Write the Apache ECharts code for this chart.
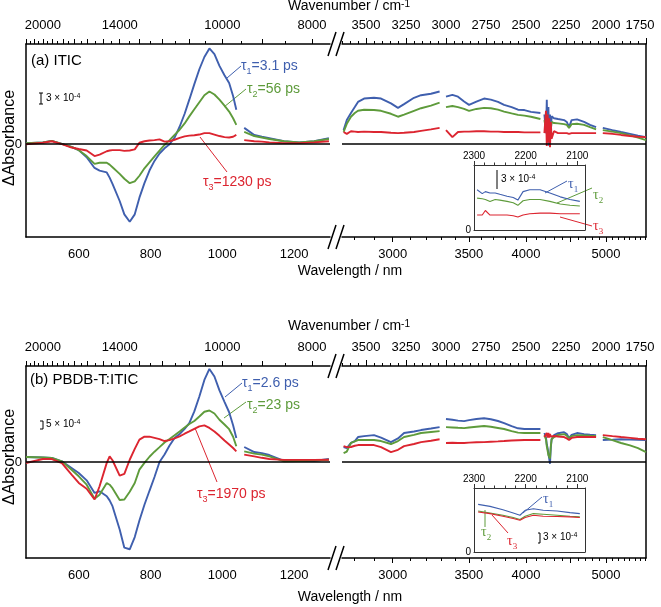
<!DOCTYPE html>
<html>
<head>
<meta charset="utf-8">
<script src="https://cdn.jsdelivr.net/npm/echarts@6/dist/echarts.min.js"></script>
<style>
  html, body { margin: 0; padding: 0; background: #fff; }
  #main { width: 661px; height: 607px; }
</style>
</head>
<body>
<div id="main"></div>
<script>
// ΔA values are in units of 1e-4
// visible / NIR part, wavelength in nm (null = gap in the data)
var visWl = [453, 500, 525, 553, 580, 600, 622, 644, 658, 678, 686, 694, 714, 727, 742, 756, 769, 783, 797, 811,
  825, 839, 853, 867, 881, 895, 908, 922, 936, 950, 964, 978, 992, 1006, 1019, 1030, 1039, 1050, 1061, 1089,
  1110, 1131, 1172, 1214, 1256, 1297];
var visBlueA = [0.3, 0.5, 0.9, 0.1, -0.7, -1.6, -3.5, -6.4, -7.1, -7.6, -9.0, -10.7, -15.3, -18.9, -20.9, -18.9, -14.4, -10.5, -7.1, -4.5,
  -2.5, -1.1, 0, 1.8, 4.7, 8.2, 12, 16.2, 20.2, 23.5, 25.8, 24.3, 21.1, 18.6, 16.5, 13, 9.3, null, 4.4, 2.5,
  2.0, 1.6, 0.8, 0.5, 0.8, 1.6];
var visGreenA = [0.3, 0.5, 0.9, 0.1, -0.7, -1.6, -3.2, -5.3, -5.0, -5.0, -5.5, -6.2, -8.0, -9.3, -10.5, -10.0, -8.5, -6.5, -4.9, -3.3,
  -1.7, -0.2, 1.1, 2.5, 3.9, 5.6, 7.5, 9.4, 11.3, 13.2, 14.2, 13.4, 12.0, 10.4, 8.8, 7.0, 5.2, null, 3.3, 2.2,
  1.8, 1.4, 0.8, 0.5, 0.8, 1.4];
var visRedA = [0, 0.4, 0.8, 0, -0.9, -1.3, -1.7, -3.2, -2.8, -1.9, -1.7, -1.6, -1.6, -1.8, -1.7, -1.4, 0.4, 0.8, 1.0, 1.1,
  1.3, 0.7, 0.8, 1.2, 1.7, 2.1, 2.3, 2.4, 2.6, 3.0, 3.0, 2.6, 2.2, 1.9, 1.8, 2.0, 2.5, null, 1.1, 0.8,
  0.7, 0.5, 0.3, 0.3, 0.5, 0.8];
var visBlueB = [2.9, 2.6, 2.3, 0.4, -3.4, -6.3, -10.5, -17.7, -16.8, -19.6, -22, -25.3, -38.7, -49.1, -50.0, -43, -33.5, -24.5, -16.5, -8.6,
  0, 4.3, 9.5, 13.8, 16, 19, 22.3, 29, 37.5, 47, 53.3, 49, 41, 34.5, 28.5, 21, 13.7, null, 8.6, 5.7,
  5.1, 4, 0.6, 0.6, 0.6, 1.7];
var visGreenB = [2.9, 2.6, 2.3, 0.4, -4.4, -8.2, -13, -21, -18.7, -12, -13, -15, -21.8, -21.5, -17, -12, -4.4, -0.5, 3, 5.9,
  8.5, 11.2, 13.2, 15.3, 17.5, 19.8, 21.8, 23.5, 26.1, 28.8, 29.5, 27.8, 24.2, 21.5, 18.8, 14.5, 9, null, 6.1, 4.8,
  4.2, 3.2, 0.4, 0.6, 0.8, 1.3];
var visRedB = [-0.6, 1.7, 1.7, -0.6, -7.2, -12, -15.3, -21.5, -13.9, -0.5, 3.2, 1.0, -7.8, -6.8, 1.3, 7.5, 12.8, 14.5, 14.5, 13.8,
  13.1, 12, 12.5, 13.5, 14.7, 16.2, 17.5, 19, 20.4, 21, 19.5, 17.5, 15, 12.3, 10, 8, 6.1, null, 4.2, 3.2,
  2.4, 1.7, 1.2, 1.2, 1.2, 1.3];

// mid-IR part, wavenumber in cm-1
var irNu = [3640, 3620, 3594, 3570, 3550, 3512, 3450, 3406, 3344, 3300, 3262, 3200, 3156, 3094, 3040, 3020, 3000, 2960, 2925, 2887,
  2856, 2810, 2762, 2720, 2675, 2637, 2590, 2550, 2510, 2469, 2410, 2397, 2385, 2375, 2370, 2365, 2360, 2355, 2350, 2345,
  2340, 2325, 2300, 2262, 2245, 2231, 2215, 2206, 2181, 2137, 2100, 2062, 2040, 2020, 1960, 1906, 1850, 1800, 1750];
var irBlueA = [3.8, 6.5, 8.4, 10, 11.4, 12.3, 12.5, 12.3, 11, 9.8, 10.8, 12.5, 13.2, 13.6, 14.2, null, 12.8, 13.3, 12.8, 11.5,
  10.6, 11.5, 12.3, 12, 11.4, 10.6, 10, 9.3, 9.2, 8.7, 8.4, null, 8, 3, 12, 1, 10, -0.5, 8, 3,
  7.5, 7, 6.8, 6.5, 6, 4.6, 6.5, 7, 6.7, 6, 5.2, 4.6, null, 4.4, 3.8, 3.3, 2.8, 2.3, 1.9];
var irGreenA = [3.3, 5.5, 7.4, 8.4, 9, 9.3, 9.2, 9, 8.2, 7.4, 8, 9, 9.7, 10.4, 11.2, null, 10, 10.3, 10, 9.5,
  9, 9.5, 9.8, 9.7, 9.3, 8.8, 8.3, 7.9, 7.7, 7.4, 6.8, null, 6.5, 4, 8, 2.5, 7, 1, 6, 4,
  6, 5.7, 5.6, 5.4, 5.2, 4.4, 5.4, 5.7, 5.5, 5.2, 4.6, 4, null, 3.8, 3.4, 3, 2.4, 1.8, 1.1];
var irRedA = [3.3, 2.8, 3.5, 3.4, 3.3, 3.4, 3.3, 3.3, 3.1, 3, 3.1, 3.3, 3.6, 4, 4.4, null, 3.8, 1.9, 3.3, 3.4,
  3.4, 3.5, 3.5, 3.4, 3.4, 3.3, 3.3, 3.3, 3.2, 3.2, 3.2, null, 3, 9, -0.5, 8, 0.5, 7, -0.8, 6,
  1.5, 3.5, 3, 3, 3, 2.8, 3, 3, 3, 3, 3, 3, null, 3, 2.8, 2.5, 2.2, 2, 1.9];
var irBlueB = [8.6, 8, 10.9, 12, 14.3, 14.8, 15.4, 14, 11.4, 13.5, 16.6, 17.5, 18.3, 19.2, 20, null, 24.6, 24.2, 23.7, 23.4,
  24, 24.6, 25.1, 24.5, 23.5, 22.3, 20.5, 19.3, 18.9, 18.9, 18.9, null, 16.6, 14, 10, 8, 5, 2, -1, 8,
  13, 15.4, 16.5, 17.1, 16, 13.7, 15.5, 16.6, 16.6, 16, 15.6, 15.4, null, 12.6, 12.8, 13, 12.8, 12.7, 12.6];
var irGreenB = [5.1, 6, 10.9, 11.8, 12.6, 12.6, 12.6, 12, 10.3, 12, 14.3, 15.5, 16.6, 17.2, 17.7, null, 20, 19.8, 19.6, 19.4,
  19.8, 20.2, 20.6, 20.2, 19.5, 18.9, 17.7, 16.8, 16.6, 16.6, 16.6, null, 15.4, 13, 9, 6.5, 4, 2.9, 2, 9,
  13, 14.3, 15.5, 16, 15, 13.7, 14.8, 15.4, 15.4, 15.2, 15, 14.9, null, 14.3, 12.5, 10.9, 9.5, 8, 5.7];
var irRedB = [9.1, 8.5, 8.6, 9.3, 9.7, 9.7, 9.7, 8.5, 5.7, 7, 9.1, 10.3, 11.4, 12.2, 13, null, 10.9, 11, 10.9, 10.9,
  11.1, 11.3, 11.4, 11.6, 11.8, 12, 12.3, 12.5, 12.6, 12.6, 12.6, null, 14.3, 13.5, 16.6, 14, 16.6, 14, 16, 14.5,
  15, 14.9, 14.6, 14.3, 13.5, 12.6, 13.8, 14.3, 14.3, 14.3, 14.3, 14.3, null, 15.4, 14.8, 14.3, 13.8, 13.3, 13];

// insets (2300-2090 cm-1)
var insNuA = [2294, 2284, 2278, 2269, 2259, 2250, 2236, 2224, 2215, 2205, 2192, 2172, 2153, 2133, 2114, 2095];
var insBlueA = [6.2, 5.6, 5.9, 5.7, 5.7, 5.5, 5.2, 5.0, 4.6, 5.9, 6.2, 6.2, 5.7, 5.1, 4.7, 4.4];
var insGreenA = [4.9, 4.8, 4.7, 4.4, 4.7, 4.6, 4.4, 4.2, 3.8, 4.5, 4.7, 4.7, 4.4, 4.0, 3.8, 3.7];
var insRedA = [2.3, 2.3, 3.0, 2.3, 2.3, 2.3, 2.3, 2.2, 2.0, 2.3, 2.5, 2.6, 2.6, 2.5, 2.5, 2.5];
var insNuB = [2292, 2269, 2244, 2224, 2211, 2201, 2185, 2166, 2139, 2114, 2095];
var insBlueB = [14.5, 13.9, 12.9, 11.9, 11.2, 12.7, 13.2, 12.7, 12.5, 12.0, 11.7];
var insGreenB = [12.5, 11.9, 11.2, 10.5, 9.9, 10.9, 11.7, 11.5, 11.2, 10.9, 10.7];
var insRedB = [12.2, 11.7, 10.9, 10.2, 9.7, 10.5, 11.2, 10.9, 10.8, 10.7, 10.5];

// tick labels
var visWlLabels = [600, 800, 1000, 1200];
var visNuLabels = [20000, 14000, 10000, 8000];
var irNuLabels = [3500, 3250, 3000, 2750, 2500, 2250, 2000, 1750];
var irWlLabels = [3000, 3500, 4000, 5000];
var irWlMajor = [3000, 3500, 4000, 4500, 5000];
var insNuLabels = [2300, 2200, 2100];

var SANS = '"Liberation Sans", Arial, Helvetica, sans-serif';
var SERIF = '"Liberation Serif", "Times New Roman", serif';
var BLUE = '#3f5fae', GREEN = '#5e9b3b', RED = '#dc2530';

var chart = echarts.init(document.getElementById('main'));

function steps(a, b, s) { var r = []; for (var v = a; s > 0 ? v <= b : v >= b; v += s) r.push(v); return r; }
function inv(arr) { return arr.map(function (v) { return 1e7 / v; }); }
function nmFmt(v) { return String(Math.round(1e7 / v)); }
function plainFmt(v) { return String(v); }

// 1-unit category scales, used only to place tick marks (nm for the visible part, cm-1 for the IR)
var visCats = steps(453, 1300, 1).map(String);
var irCats = steps(3650, 1750, -1).map(String);
var insCats = steps(2300, 2085, -1).map(String);

function baseX(gi, pos, min, max, inverse, color, w) {
  return {
    type: 'value', gridIndex: gi, position: pos, min: min, max: max, inverse: !!inverse,
    axisLine: { show: true, onZero: false, lineStyle: { color: color || '#000', width: w || 1.5 } },
    axisTick: { show: false }, axisLabel: { show: false }, splitLine: { show: false }
  };
}
function labels(ax, vals, fmt, size, margin, rich) {
  ax.axisLabel = { show: true, customValues: vals, formatter: fmt || plainFmt, fontSize: size, color: '#000',
    fontFamily: SANS, margin: margin };
  if (rich) ax.axisLabel.rich = rich;
  return ax;
}
function tickAxis(gi, pos, cats, marks, len, color) {
  var set = {};
  marks.forEach(function (m) { set[String(Math.round(m))] = true; });
  return {
    type: 'category', gridIndex: gi, position: pos, data: cats, boundaryGap: false,
    axisLine: { show: false, onZero: false }, axisLabel: { show: false }, splitLine: { show: false },
    axisTick: { show: true, length: len, lineStyle: { color: color || '#000', width: 1 },
      interval: function (i, v) { return set[v] === true; } }
  };
}

var grids = [], xAxes = [], yAxes = [], series = [], graphics = [];

// outward ticks above a frame line: a thin helper grid whose bottom edge sits len px above the
// frame, with downward bottom ticks of length len that end on the frame line
function topTicks(left, width, frameTop, cats, marks, len, color) {
  var g = grids.length;
  grids.push({ left: left, top: frameTop - len - 2, width: width, height: 2 });
  xAxes.push(tickAxis(g, 'bottom', cats, marks, len, color));
  yAxes.push({ type: 'value', gridIndex: g, min: 0, max: 1, show: false });
}

function zip(xs, ys) {
  return xs.map(function (x, i) { return [x, ys[i] === null ? '-' : ys[i]]; });
}
function line(xs, ys, color, xi, yi, w, zero) {
  var s = {
    type: 'line', xAxisIndex: xi, yAxisIndex: yi, data: zip(xs, ys), showSymbol: false,
    lineStyle: { color: color, width: w }, itemStyle: { color: color }, connectNulls: false, silent: true
  };
  if (zero) {
    s.markLine = { silent: true, symbol: ['none', 'none'], label: { show: false },
      lineStyle: { color: '#000', width: 1.5, type: 'solid' }, data: [{ yAxis: 0 }] };
  }
  series.push(s);
}

function panel(top, h, yMin, yMax, insTop, insH, insMax, vis, ir, ins, insNu) {
  var g = grids.length, xi = xAxes.length, yi = yAxes.length;
  grids.push({ left: 26, top: top, width: 304, height: h },
             { left: 342, top: top, width: 304, height: h },
             { left: 474, top: insTop, width: 111, height: insH });
  // value axes that carry the data and the labels
  xAxes.push(labels(baseX(g, 'bottom', 453, 1300), visWlLabels, null, 13, 11));               // xi
  xAxes.push(labels(baseX(g, 'top', 453, 1300), inv(visNuLabels), nmFmt, 13, 12));            // xi+1
  xAxes.push(labels(baseX(g + 1, 'bottom', 1750, 3650, true), inv(irWlLabels), nmFmt, 13, 11)); // xi+2
  xAxes.push(labels(baseX(g + 1, 'top', 1750, 3650, true), irNuLabels,                         // xi+3
    function (v) { return v === 1750 ? '{r|1750}' : String(v); }, 13, 12,
    { r: { fontSize: 13, fontFamily: SANS, color: '#000', padding: [0, 12, 0, 0] } }));
  xAxes.push(labels(baseX(g + 2, 'top', 2085, 2300, true, '#333', 1), insNuLabels, null, 10, 4)); // xi+4
  xAxes.push(baseX(g + 2, 'bottom', 2085, 2300, true, '#333', 1));                             // xi+5
  // bottom ticks of the IR segment (wavelength steps on the wavenumber scale)
  xAxes.push(tickAxis(g + 1, 'bottom', irCats, inv(steps(2800, 5700, 100)), 3));
  xAxes.push(tickAxis(g + 1, 'bottom', irCats, inv(irWlMajor), 5));

  yAxes.push({ type: 'value', gridIndex: g, position: 'left', min: yMin, max: yMax,
    axisLine: { show: true, onZero: false, lineStyle: { color: '#000', width: 1.5 } }, axisTick: { show: false },
    axisLabel: { customValues: [0], fontSize: 13, color: '#000', fontFamily: SANS, margin: 4 }, splitLine: { show: false } });
  yAxes.push({ type: 'value', gridIndex: g + 1, position: 'right', min: yMin, max: yMax,
    axisLine: { show: true, onZero: false, lineStyle: { color: '#000', width: 1.5 } }, axisTick: { show: false },
    axisLabel: { show: false }, splitLine: { show: false } });
  yAxes.push({ type: 'value', gridIndex: g + 2, position: 'left', min: 0, max: insMax,
    axisLine: { show: true, onZero: false, lineStyle: { color: '#333', width: 1 } }, axisTick: { show: false },
    axisLabel: { customValues: [0], fontSize: 10, color: '#000', fontFamily: SANS, margin: 3 }, splitLine: { show: false } });
  yAxes.push({ type: 'value', gridIndex: g + 2, position: 'right', min: 0, max: insMax,
    axisLine: { show: true, onZero: false, lineStyle: { color: '#333', width: 1 } }, axisTick: { show: false },
    axisLabel: { show: false }, splitLine: { show: false } });

  var cols = [BLUE, GREEN, RED];
  for (var k = 0; k < 3; k++) {
    line(visWl, vis[k], cols[k], xi, yi, 1.9, k === 0);
    line(irNu, ir[k], cols[k], xi + 2, yi + 1, 1.9, k === 0);
    line(insNu, ins[k], cols[k], xi + 4, yi + 2, 1.1, false);
  }

  // top ticks
  topTicks(26, 304, top, visCats, inv(steps(22000, 8000, -500)), 3);
  topTicks(26, 304, top, visCats, inv(steps(22000, 8000, -1000)), 5);
  topTicks(342, 304, top, irCats, steps(1750, 3650, 50), 3);
  topTicks(342, 304, top, irCats, steps(1750, 3500, 250), 6);
  topTicks(474, 111, insTop, insCats, steps(2100, 2300, 20), 2.5, '#333');
  topTicks(474, 111, insTop, insCats, insNuLabels, 4, '#333');

  // axis break marks
  [top, top + h].forEach(function (y) {
    [332, 340].forEach(function (cx) {
      graphics.push({ type: 'line', silent: true, shape: { x1: cx - 4, y1: y + 12, x2: cx + 4, y2: y - 12 },
        style: { stroke: '#000', lineWidth: 1.5 } });
    });
  });
}

function text(x, y, str, size, color, align, extra) {
  var st = { text: str, fill: color || '#000', fontSize: size, fontFamily: SANS, align: align || 'left', verticalAlign: 'middle' };
  var el = { type: 'text', x: x, y: y, silent: true, style: st };
  if (extra) for (var key in extra) el[key] = extra[key];
  graphics.push(el);
}
function seg(x1, y1, x2, y2, color, w) {
  graphics.push({ type: 'line', silent: true, shape: { x1: x1, y1: y1, x2: x2, y2: y2 },
    style: { stroke: color || '#000', lineWidth: w || 1 } });
}
function tau(x, y, n, rest, color, size, family) {
  var sub = Math.round(size * 0.65);
  graphics.push({ type: 'text', x: x, y: y, silent: true, style: {
    text: '{t|τ}{s|' + n + '}' + (rest ? '{t|' + rest + '}' : ''), align: 'left', verticalAlign: 'middle',
    rich: {
      t: { fontSize: size, fontFamily: family, fill: color, verticalAlign: 'top', lineHeight: size },
      s: { fontSize: sub, fontFamily: family, fill: color, verticalAlign: 'top', lineHeight: sub,
        padding: [Math.round(size * 0.55), 0, 0, 0] }
    } } });
}
function sup(x, y, base, p, size, align) {
  var ps = Math.round(size * 0.7);
  graphics.push({ type: 'text', x: x, y: y, silent: true, style: {
    text: '{b|' + base + '}{p|' + p + '}', align: align || 'left', verticalAlign: 'middle',
    rich: {
      b: { fontSize: size, fontFamily: SANS, fill: '#000', verticalAlign: 'bottom', lineHeight: size,
        padding: [Math.round(size * 0.3), 0, 0, 0] },
      p: { fontSize: ps, fontFamily: SANS, fill: '#000', verticalAlign: 'top', lineHeight: ps }
    } } });
}

panel(44, 193, -25, 27, 165, 65, 10,
  [visBlueA, visGreenA, visRedA], [irBlueA, irGreenA, irRedA], [insBlueA, insGreenA, insRedA], insNuA);
panel(366, 192, -55, 55, 488, 64, 19.5,
  [visBlueB, visGreenB, visRedB], [irBlueB, irGreenB, irRedB], [insBlueB, insGreenB, insRedB], insNuB);

// axis titles
sup(349, 6, 'Wavenumber / cm', '-1', 14, 'center');
sup(349, 326, 'Wavenumber / cm', '-1', 14, 'center');
text(350, 271, 'Wavelength / nm', 14, '#000', 'center');
text(350, 597, 'Wavelength / nm', 14, '#000', 'center');
text(10, 138, 'ΔAbsorbance', 16, '#000', 'center', { rotation: Math.PI / 2 });
text(10, 457, 'ΔAbsorbance', 16, '#000', 'center', { rotation: Math.PI / 2 });

// panel labels
text(31, 61, '(a) ITIC', 15);
text(30, 380, '(b) PBDB-T:ITIC', 15);

// scale bars
seg(41, 93, 41, 104); seg(39, 93, 43, 93); seg(39, 104, 43, 104);
sup(46, 98, '3 × 10', '-4', 10);
seg(43, 421, 43, 429); seg(40, 421, 43, 421); seg(40, 429, 43, 429);
sup(46, 424, '5 × 10', '-4', 10);
seg(497, 170, 497, 189);
sup(501, 179, '3 × 10', '-4', 10);
seg(540, 533, 540, 543); seg(538, 533, 540, 533); seg(538, 543, 540, 543);
sup(543, 537, '3 × 10', '-4', 10);

// lifetime labels, panel (a)
tau(241, 66, '1', '=3.1 ps', BLUE, 14, SANS); seg(227, 78, 241, 66, BLUE);
tau(247, 89, '2', '=56 ps', GREEN, 14, SANS); seg(224, 107, 246, 89, GREEN);
tau(203, 182, '3', '=1230 ps', RED, 14, SANS); seg(200, 137, 227, 172, RED);
// panel (b)
tau(242, 383, '1', '=2.6 ps', BLUE, 14, SANS); seg(225, 397, 242, 383, BLUE);
tau(247, 405, '2', '=23 ps', GREEN, 14, SANS); seg(224, 418, 246, 402, GREEN);
tau(197, 494, '3', '=1970 ps', RED, 14, SANS); seg(195, 428, 217, 482, RED);
// insets
tau(568, 184, '1', '', BLUE, 14, SERIF); seg(545, 193, 567, 181, BLUE);
tau(593, 195, '2', '', GREEN, 14, SERIF); seg(557, 203, 592, 188, GREEN);
tau(593, 226, '3', '', RED, 14, SERIF); seg(560, 217, 592, 226, RED);
tau(543, 499, '1', '', BLUE, 14, SERIF); seg(523, 513, 542, 497, BLUE);
tau(481, 532, '2', '', GREEN, 14, SERIF); seg(485, 510, 485, 527, GREEN);
tau(507, 541, '3', '', RED, 14, SERIF); seg(492, 515, 508, 533, RED);

chart.setOption({
  animation: false,
  backgroundColor: '#fff',
  grid: grids,
  xAxis: xAxes,
  yAxis: yAxes,
  series: series,
  graphic: { elements: graphics }
});
</script>
</body>
</html>
